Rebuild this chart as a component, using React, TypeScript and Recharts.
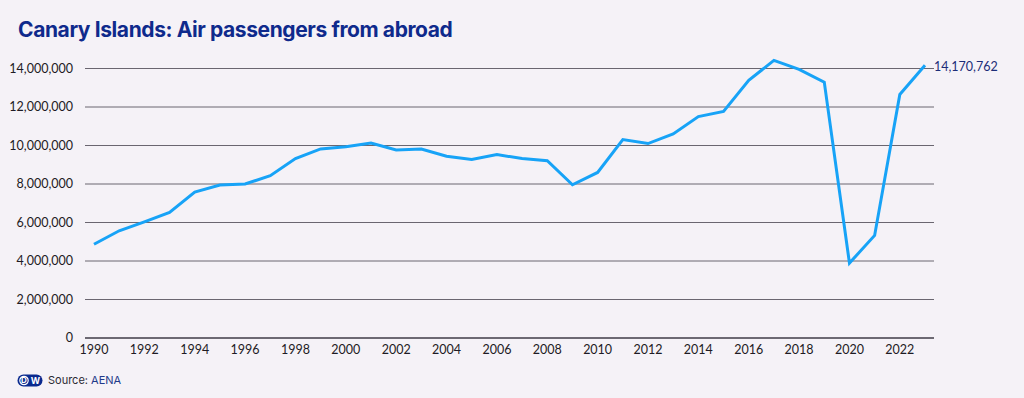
import { LineChart, Line, XAxis, YAxis, CartesianGrid } from "recharts"

const years = [
  1990, 1991, 1992, 1993, 1994, 1995, 1996, 1997, 1998, 1999, 2000, 2001, 2002, 2003, 2004, 2005, 2006,
  2007, 2008, 2009, 2010, 2011, 2012, 2013, 2014, 2015, 2016, 2017, 2018, 2019, 2020, 2021, 2022, 2023,
]

const passengers = [
  4870000, 5570000, 6030000, 6520000, 7580000, 7950000, 8000000, 8430000, 9320000, 9820000, 9930000,
  10130000, 9770000, 9820000, 9440000, 9270000, 9530000, 9320000, 9210000, 7960000, 8600000, 10310000,
  10100000, 10600000, 11500000, 11770000, 13390000, 14420000, 13950000, 13290000, 3890000, 5330000,
  12650000, 14170762,
]

const xTicks = [1990, 1992, 1994, 1996, 1998, 2000, 2002, 2004, 2006, 2008, 2010, 2012, 2014, 2016, 2018, 2020, 2022]
const yTicks = [0, 2000000, 4000000, 6000000, 8000000, 10000000, 12000000, 14000000]

const data = years.map((year, i) => ({ year, value: passengers[i] }))

const fmt = (v: number) => v.toLocaleString("en-US")

const font = "Lato, 'Noto Sans', sans-serif"

const EndLabel = (props: any) => {
  const { x, y, index } = props
  if (index !== data.length - 1) return null
  return (
    <text x={x + 9} y={y + 3} dominantBaseline="middle" fill="#1c2d78" fontSize={12.5} fontFamily={font}>
      {fmt(passengers[passengers.length - 1])}
    </text>
  )
}

export default function App() {
  return (
    <div
      style={{
        position: "fixed",
        left: 0,
        top: 0,
        width: 1024,
        height: 398,
        background: "#f5f2f7",
        fontFamily: font,
      }}
    >
      <div
        style={{
          position: "absolute",
          left: 18,
          top: 17,
          fontFamily: "Inter, sans-serif",
          fontWeight: 700,
          fontSize: 21,
          letterSpacing: -0.4,
          color: "#0f2a8c",
        }}
      >
        Canary Islands: Air passengers from abroad
      </div>

      <LineChart width={1024} height={398} data={data} margin={{ top: 30, right: 90, bottom: 30, left: 0 }}>
        <CartesianGrid vertical={false} stroke="#6a6670" strokeWidth={1} syncWithTicks />
        <XAxis
          dataKey="year"
          type="number"
          domain={[1990, 2023]}
          ticks={xTicks}
          padding={{ left: 9, right: 9 }}
          tickLine={false}
          axisLine={{ stroke: "#2a2633" }}
          tickSize={0}
          tickMargin={7}
          tick={{ fill: "#1e1b24", fontSize: 12.5, fontFamily: font }}
          height={30}
        />
        <YAxis
          domain={[0, 16000000]}
          ticks={yTicks}
          tickFormatter={fmt}
          tickLine={false}
          axisLine={false}
          tickMargin={6}
          width={85}
          tick={{ fill: "#1e1b24", fontSize: 12.5, fontFamily: font }}
        />
        <Line
          dataKey="value"
          stroke="#17a3f7"
          strokeWidth={3}
          dot={false}
          isAnimationActive={false}
          label={<EndLabel />}
        />
      </LineChart>

      <div style={{ position: "absolute", left: 17, top: 373, display: "flex", alignItems: "center" }}>
        <svg width={26} height={13}>
          <rect x={0.5} y={0.5} width={25} height={12} rx={6} fill="#0a2a8f" />
          <circle cx={7} cy={6.5} r={4.2} fill="none" stroke="#fff" strokeWidth={1.2} />
          <text x={7} y={9.3} textAnchor="middle" fill="#fff" fontSize={8} fontWeight={700} fontFamily="Inter, sans-serif">
            D
          </text>
          <text x={18.5} y={9.5} textAnchor="middle" fill="#fff" fontSize={9} fontWeight={700} fontFamily="Inter, sans-serif">
            W
          </text>
        </svg>
        <span style={{ marginLeft: 5, fontSize: 11, fontFamily: "Inter, sans-serif", color: "#2b2a33" }}>
          Source: <span style={{ color: "#1f3a8a" }}>AENA</span>
        </span>
      </div>
    </div>
  )
}
